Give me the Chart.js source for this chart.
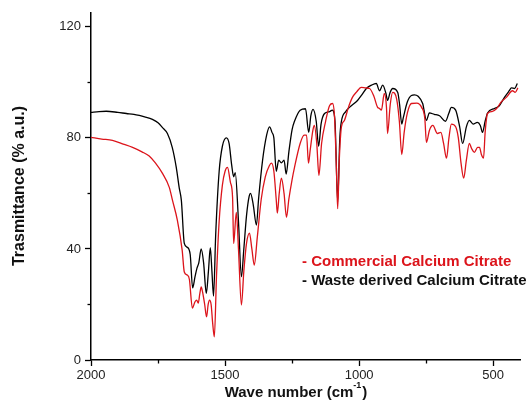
<!DOCTYPE html>
<html>
<head>
<meta charset="utf-8">
<script src="https://cdn.jsdelivr.net/npm/chart.js@4/dist/chart.umd.min.js"></script>
<style>
html,body{margin:0;padding:0;background:#fff;}
canvas{display:block;}
</style>
</head>
<body>
<canvas id="c" width="530" height="400"></canvas>
<script>
// Waste derived Calcium Citrate (black)
const wasteWavenumber = [2000,1970,1943,1900,1868,1840,1820,1800,1771,1750,1734,1715,1697,1682,1671,1663,1652,1641,1630,1621,1612,1605,1598,1589,1580,1570,1562,1555,1549,1543,1535,1522,1510,1495,1485,1475,1468,1462,1450,1439,1430,1420,1410,1405,1395,1383,1375,1360,1345,1334,1325,1318,1309,1300,1290,1280,1272,1262,1250,1241,1220,1200,1188,1180,1172,1160,1151,1142,1129,1110,1100,1090,1080,1072,1066,1050,1036,1006,990,973,954,936,924,912,900,894,884,875,856,849,841,835,820,805,794,780,763,749,738,720,700,678,665,656,640,625,614,600,589,575,559,548,540,530,521,495,478,458,440,432,420,410];
const wasteT = [89.2,89.5,89.6,89.2,88.8,88.5,88.1,87.6,86.7,85.5,83.8,81.6,76.6,69.4,62,57.5,42,40.6,38,26,30,33,35,40,35,24,32,40.5,32,23,45,68,77,80,78,70,66,67.5,50,30,40,52,59,60,56,48.6,58,72,81,84,82,80,68,72,71,72,67,75,83,86,90,90.5,82,88,90.3,86,77,85,88.8,89.5,90,86,57,80,86,89.5,91,93.5,95.5,97.8,99,99.6,97,99,96,93.5,96.5,97.8,96.4,92,85,87.4,93,95.3,95.5,95,92.4,86.3,89,88.5,88,86,89,91,90,84,78,84,86.3,85,85.6,84.5,82,86,89,90.6,91.5,94.6,97,98,97.8,99.6];

// Commercial Calcium Citrate (red)
const commWavenumber = [2000,1960,1920,1880,1845,1810,1783,1760,1734,1708,1696,1678,1660,1652,1641,1633,1622,1612,1606,1600,1594,1589,1584,1576,1569,1563,1558,1552,1546,1540,1532,1522,1510,1500,1491,1480,1472,1468,1458,1450,1439,1430,1420,1409,1400,1391,1380,1365,1350,1335,1327,1318,1309,1305,1298,1290,1280,1271,1262,1250,1241,1220,1205,1196,1189,1182,1172,1167,1158,1150,1140,1125,1110,1099,1092,1085,1080,1074,1066,1055,1040,1025,1010,992,975,961,945,931,924,917,906,898,894,884,875,860,850,841,832,820,805,785,767,755,749,738,725,708,695,685,674,665,656,640,630,620,610,600,589,581,570,558,551,544,536,530,521,505,487,470,451,428,418,408];
const commT = [80.2,79.6,79.1,77.8,76.6,75,73.5,71,67.3,62.2,57.5,50.4,39.6,31.7,30.6,29,18.7,21,21.6,20.5,24,26.3,24.5,20,15.5,20,21.6,20,13,8.3,30,50,63,68,69.4,64,58.6,42,53.2,40,19.8,32,42,45.7,40,34.2,44,58,66,70,70.9,68,57.6,52.9,60,65.5,60,51.4,58,65,69.4,78,81,81,70.9,76,83,84.5,78,66.5,78,86,91.7,92.4,88,70,54.5,72,84,86.3,91,94.6,96.5,98.2,98,97.8,95,91,90.6,90,96,91,81.6,92,96.4,94,86,74,82,89,92.4,92.5,91,87,78.4,82.7,84.5,81.6,82,78,72.7,80,85,84,80,71,65.5,72,78,76.3,74.8,76.6,76.6,74,72.7,82,88.8,89.5,90.6,93,94.6,97,96.4,98];

const xMajorTicks = [2000,1500,1000,500];
const xMinorTicks = [1750,1250,750];
const yMajorTicks = [0,40,80,120];
const yMinorTicks = [20,60,100];

const seriesNames = ['- Commercial Calcium Citrate','- Waste derived Calcium Citrate'];
const xTitle = ['Wave number (cm', '-1', ')'];
const yTitle = 'Trasmittance (% a.u.)';

const RED = '#dc141b';
const FONT = "'Liberation Sans', Arial, sans-serif";

const toPts = (xs, ys) => xs.map((x, i) => ({x: x, y: ys[i]}));

const decor = {
  id: 'decor',
  afterDraw(chart) {
    const ctx = chart.ctx;
    const xs = chart.scales.x, ys = chart.scales.y;
    ctx.save();
    ctx.strokeStyle = '#000';
    ctx.lineWidth = 1.3;
    // minor ticks
    xMinorTicks.forEach(v => {
      const px = Math.round(xs.getPixelForValue(v)) + 0.5;
      ctx.beginPath(); ctx.moveTo(px, ys.bottom); ctx.lineTo(px, ys.bottom + 3.5); ctx.stroke();
    });
    yMinorTicks.forEach(v => {
      const py = Math.round(ys.getPixelForValue(v)) + 0.5;
      ctx.beginPath(); ctx.moveTo(xs.left, py); ctx.lineTo(xs.left - 3.5, py); ctx.stroke();
    });
    // y title
    ctx.fillStyle = '#111';
    ctx.font = 'bold 16px ' + FONT;
    ctx.textAlign = 'center';
    ctx.textBaseline = 'middle';
    ctx.save();
    ctx.translate(20, 186);
    ctx.rotate(-Math.PI / 2);
    ctx.fillText(yTitle, 0, 0);
    ctx.restore();
    // x title with superscript
    ctx.textAlign = 'left';
    ctx.textBaseline = 'alphabetic';
    const fMain = 'bold 15px ' + FONT, fSup = 'bold 9px ' + FONT;
    ctx.font = fMain; const w1 = ctx.measureText(xTitle[0]).width; const w3 = ctx.measureText(xTitle[2]).width;
    ctx.font = fSup; const w2 = ctx.measureText(xTitle[1]).width;
    let x0 = 296 - (w1 + w2 + 1 + w3) / 2;
    const base = 397;
    ctx.font = fMain; ctx.fillText(xTitle[0], x0, base);
    ctx.font = fSup; ctx.fillText(xTitle[1], x0 + w1, base - 9);
    ctx.font = fMain; ctx.fillText(xTitle[2], x0 + w1 + w2 + 1, base);
    // legend
    ctx.font = 'bold 15px ' + FONT;
    ctx.fillStyle = RED;
    ctx.fillText(seriesNames[0], 302, 266);
    ctx.fillStyle = '#111';
    ctx.fillText(seriesNames[1], 302, 285);
    ctx.restore();
  }
};

new Chart(document.getElementById('c'), {
  type: 'line',
  data: {
    datasets: [
      {label: seriesNames[0], data: toPts(commWavenumber, commT), borderColor: RED, borderWidth: 1.3, pointRadius: 0, cubicInterpolationMode: 'monotone', fill: false},
      {label: seriesNames[1], data: toPts(wasteWavenumber, wasteT), borderColor: '#000', borderWidth: 1.3, pointRadius: 0, cubicInterpolationMode: 'monotone', fill: false}
    ]
  },
  options: {
    responsive: false,
    animation: false,
    devicePixelRatio: 1,
    layout: {padding: {left: 0, right: 10, top: 13, bottom: 0}},
    plugins: {legend: {display: false}, tooltip: {enabled: false}},
    scales: {
      x: {
        type: 'linear', reverse: true, min: 400, max: 2000,
        afterBuildTicks: s => { s.ticks = xMajorTicks.map(v => ({value: v})); },
        afterFit: s => { s.height = 40; },
        grid: {drawOnChartArea: false, drawTicks: true, tickLength: 6, tickColor: '#000', tickWidth: 1.3},
        border: {display: true, color: '#000', width: 1.5},
        ticks: {autoSkip: false, maxRotation: 0, padding: 2, color: '#222', font: {family: FONT, size: 13}, callback: v => String(v)}
      },
      y: {
        type: 'linear', min: 0, max: 125,
        afterBuildTicks: s => { s.ticks = yMajorTicks.map(v => ({value: v})); },
        afterFit: s => { s.width = 91; },
        grid: {drawOnChartArea: false, drawTicks: true, tickLength: 6, tickColor: '#000', tickWidth: 1.3},
        border: {display: true, color: '#000', width: 1.5},
        ticks: {padding: 4, color: '#222', font: {family: FONT, size: 13}, callback: v => String(v)}
      }
    }
  },
  plugins: [decor]
});
</script>
</body>
</html>
